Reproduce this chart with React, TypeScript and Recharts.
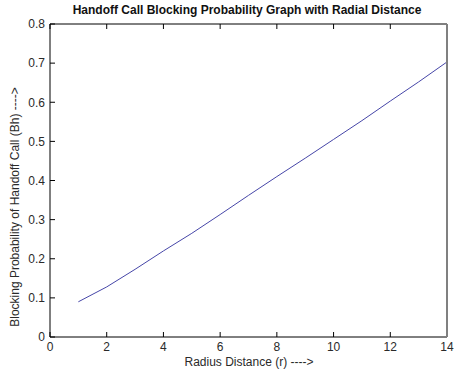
import { LineChart, Line, XAxis, YAxis, Label } from 'recharts';

// radius distance (r) vs handoff call blocking probability (Bh)
const radius = [1, 2, 3, 4, 5, 6, 7, 8, 9, 10, 11, 12, 13, 14];
const blocking = [0.09, 0.128, 0.173, 0.22, 0.265, 0.313, 0.362, 0.41, 0.457, 0.505, 0.553, 0.603, 0.652, 0.703];

const xTicks = [0, 2, 4, 6, 8, 10, 12, 14];
const yTicks = [0, 0.1, 0.2, 0.3, 0.4, 0.5, 0.6, 0.7, 0.8];

const title = 'Handoff Call Blocking Probability Graph with Radial Distance';
const xLabel = 'Radius Distance (r)  ---->';
const yLabel = 'Blocking Probability of Handoff Call (Bh)  ---->';

const data = radius.map((r, i) => ({ r, bh: blocking[i] }));

const font = 'Arial, "Liberation Sans", Helvetica, sans-serif';
const tickStyle = { fontSize: 12, fill: '#2a2a2a', fontFamily: font };

const App = () => {
  return (
    <div style={{ position: 'absolute', left: 0, top: 0, background: '#fff' }}>
      <LineChart width={465} height={372} data={data} margin={{ top: 0, right: 0, bottom: 0, left: 0 }}>
        <XAxis
          xAxisId="bottom"
          dataKey="r"
          type="number"
          domain={[0, 14]}
          ticks={xTicks}
          height={35}
          tickSize={-5}
          tickMargin={10}
          stroke="#000"
          tick={tickStyle}
          interval={0}
        >
          <Label
            content={() => (
              <text x={249} y={366} textAnchor="middle" fontSize={12} fill="#2a2a2a" fontFamily={font}>
                {xLabel}
              </text>
            )}
          />
        </XAxis>
        <XAxis
          xAxisId="top"
          orientation="top"
          dataKey="r"
          type="number"
          domain={[0, 14]}
          ticks={xTicks}
          height={24}
          tickSize={-5}
          tickFormatter={() => ''}
          stroke="#000"
          interval={0}
        >
          <Label
            content={() => (
              <text x={247} y={14} textAnchor="middle" fontSize={12} fontWeight="bold" fill="#111" fontFamily={font}>
                {title}
              </text>
            )}
          />
        </XAxis>
        <YAxis
          yAxisId="left"
          type="number"
          domain={[0, 0.8]}
          ticks={yTicks}
          width={50}
          tickSize={-5}
          tickMargin={10}
          stroke="#000"
          tick={tickStyle}
          tickFormatter={(v: number) => String(v)}
          interval={0}
        >
          <Label
            content={() => (
              <text
                transform="translate(19,207) rotate(-90)"
                textAnchor="middle"
                fontSize={12}
                fill="#2a2a2a"
                fontFamily={font}
              >
                {yLabel}
              </text>
            )}
          />
        </YAxis>
        <YAxis
          yAxisId="right"
          orientation="right"
          type="number"
          domain={[0, 0.8]}
          ticks={yTicks}
          width={18}
          tickSize={-5}
          tickFormatter={() => ''}
          stroke="#808080"
          strokeWidth={2}
          interval={0}
        />
        <Line
          xAxisId="bottom"
          yAxisId="left"
          type="linear"
          dataKey="bh"
          stroke="#4646a8"
          strokeWidth={1}
          dot={false}
          isAnimationActive={false}
        />
      </LineChart>
    </div>
  );
};

export default App;
